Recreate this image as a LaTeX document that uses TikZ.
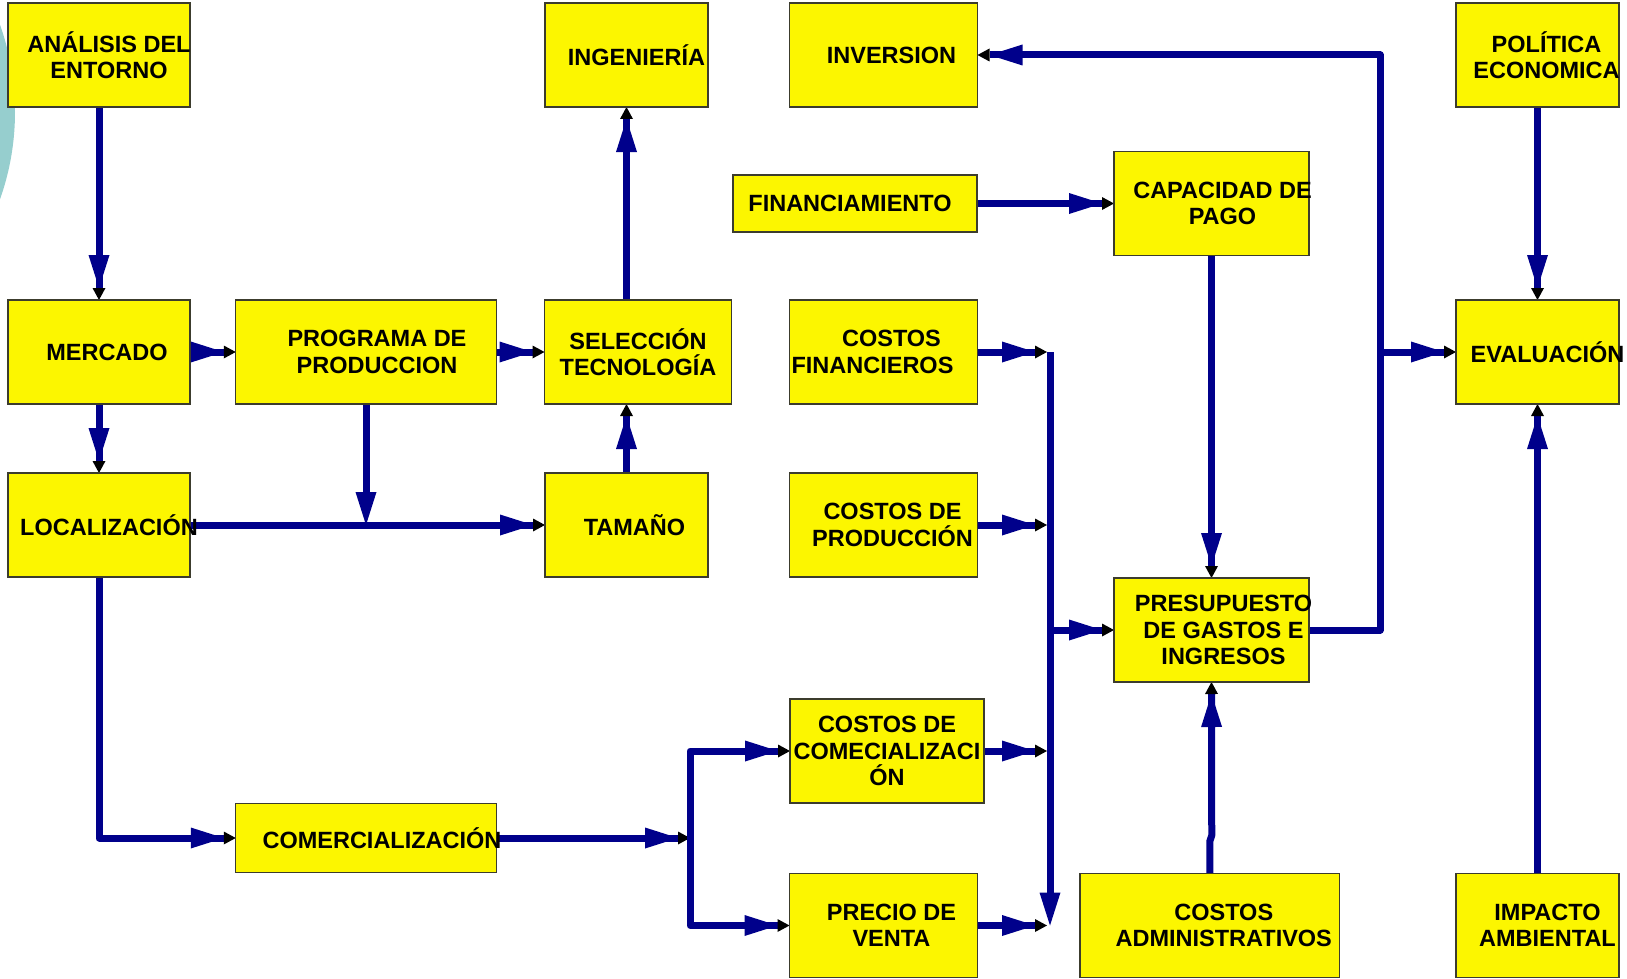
\documentclass[tikz,border=0pt]{standalone}
\usepackage{fontspec}
\setmainfont{Liberation Sans}
\usetikzlibrary{arrows.meta,backgrounds}
\definecolor{navyc}{RGB}{0,0,139}
\definecolor{boxy}{RGB}{252,246,0}
\definecolor{boxb}{RGB}{60,60,45}
\definecolor{tealc}{RGB}{150,206,206}
\begin{document}
\begin{tikzpicture}[x=1pt,y=-1pt,
  box/.style 2 args={draw=boxb, line width=1.3pt, fill=boxy, minimum width=#1pt, minimum height=#2pt, inner sep=0pt, outer sep=0pt},
  lab/.style={font=\bfseries\fontsize{23.5}{26.5}\selectfont, align=center, inner sep=0pt},
  ln/.style={draw=navyc, line width=7pt, line join=round},
  arr/.style={ln, -{Triangle[length=33pt,width=21pt,line width=0pt,sep=0pt]Triangle[length=12pt,width=13pt,line width=0pt,color=black,fill=black]}},
  arrn/.style={ln, -{Triangle[length=33pt,width=21pt,line width=0pt]}}
]
\useasboundingbox (0,0) rectangle (1627,979);

% boxes
\node[box={182}{104}, label={[lab,xshift=10pt]center:ANÁLISIS DEL\\ENTORNO}] (ana) at (99,55) {};
\node[box={163}{104}, label={[lab,xshift=10pt]center:INGENIERÍA}] (ing) at (626.5,55) {};
\node[box={188}{104}, label={[lab,xshift=8pt]center:INVERSION}] (inv) at (883.5,55) {};
\node[box={163}{104}, label={[lab,xshift=9pt]center:POLÍTICA\\ECONOMICA}] (pol) at (1537.5,55) {};
\node[box={244}{57}, label={[lab,xshift=-5pt]center:FINANCIAMIENTO}] (fin) at (855,203.5) {};
\node[box={195}{104}, label={[lab,xshift=11pt]center:CAPACIDAD DE\\PAGO}] (cap) at (1211.5,203.5) {};
\node[box={182}{104}, label={[lab,xshift=8pt]center:MERCADO}] (mer) at (99,352) {};
\node[box={260.5}{104}, label={[lab,xshift=11pt]center:PROGRAMA DE\\PRODUCCION}] (prog) at (366,352) {};
\node[box={187}{104}, label={[lab,xshift=0pt]center:SELECCIÓN\\TECNOLOGÍA}] (sel) at (638,352) {};
\node[box={188}{104}, label={[lab,xshift=-11pt]center:\hspace*{38pt}COSTOS\\FINANCIEROS}] (cfin) at (883.5,352) {};
\node[box={163}{104}, label={[lab,xshift=10pt]center:EVALUACIÓN}] (eval) at (1537.5,352) {};
\node[box={182}{104}, label={[lab,xshift=10pt]center:LOCALIZACIÓN}] (loc) at (99,525) {};
\node[box={163}{104}, label={[lab,xshift=8pt]center:TAMAÑO}] (tam) at (626.5,525) {};
\node[box={188}{104}, label={[lab,xshift=9pt]center:COSTOS DE\\PRODUCCIÓN}] (cprod) at (883.5,525) {};
\node[box={195}{104}, label={[lab,xshift=12pt]center:PRESUPUESTO\\DE GASTOS E\\INGRESOS}] (presu) at (1211.5,630) {};
\node[box={194}{104}, label={[lab,xshift=0pt]center:COSTOS DE\\COMECIALIZACI\\ÓN}] (comec) at (887,751) {};
\node[box={260.5}{68.5}, label={[lab,xshift=16pt]center:COMERCIALIZACIÓN}] (com) at (366,838) {};
\node[box={188}{104}, label={[lab,xshift=8pt]center:PRECIO DE\\VENTA}] (pre) at (883.5,925.5) {};
\node[box={259.5}{104}, label={[lab,xshift=14pt]center:COSTOS\\ADMINISTRATIVOS}] (adm) at (1209.75,925.5) {};
\node[box={163}{104}, label={[lab,xshift=10pt]center:IMPACTO\\AMBIENTAL}] (imp) at (1537.5,925.5) {};

\coordinate (bx) at (1050,0);
\coordinate (bxe) at (1047,0);
\coordinate (jc) at (690,838);
\coordinate (rx) at (1380,0);

\begin{scope}[on background layer]
  \clip (0,0) rectangle (1627,979);
  \fill[tealc] (-245,112) circle[radius=260pt];
  % left part
  \draw[arr] (ana.south) -- (mer.north);
  \draw[arr] (mer.east) -- (prog.west);
  \draw[arr] (mer.south) -- (loc.north);
  \draw[arr] (prog.east) -- (sel.west);
  \draw[arrn] (prog.south) -- (prog.south |- loc.east);
  \draw[arr] (loc.east) -- (tam.west);
  \draw[arr] (tam.north) -- (tam.north |- sel.south);
  \draw[arr] (ing.south |- sel.north) -- (ing.south);
  \draw[arr] (loc.south) |- (com.west);
  \draw[arr] (com.east) -- (jc);
  \draw[arr] (jc) |- (comec.west);
  \draw[arr] (jc) |- (pre.west);
  % cost bus
  \draw[arr] (cfin.east) -- (cfin.east -| bxe);
  \draw[arr] (cprod.east) -- (cprod.east -| bxe);
  \draw[arr] (comec.east) -- (comec.east -| bxe);
  \draw[arr] (pre.east) -- (pre.east -| bxe);
  \draw[arrn] (bx |- cfin.east) -- (bx |- pre.east);
  \draw[arr] (bx |- presu.west) -- (presu.west);
  % right part
  \draw[arr] (fin.east) -- (cap.west);
  \draw[arr] (cap.south) -- (presu.north);
  \draw[arr] (adm.north) -- ++(0,-32) -- ++(2,-6) -- (presu.south);
  \draw[arr] (presu.east) -| (rx |- inv.east) -- (inv.east);
  \draw[arr] (rx |- eval.west) -- (eval.west);
  \draw[arr] (pol.south) -- (eval.north);
  \draw[arr] (imp.north) -- (eval.south);
\end{scope}
\end{tikzpicture}
\end{document}
